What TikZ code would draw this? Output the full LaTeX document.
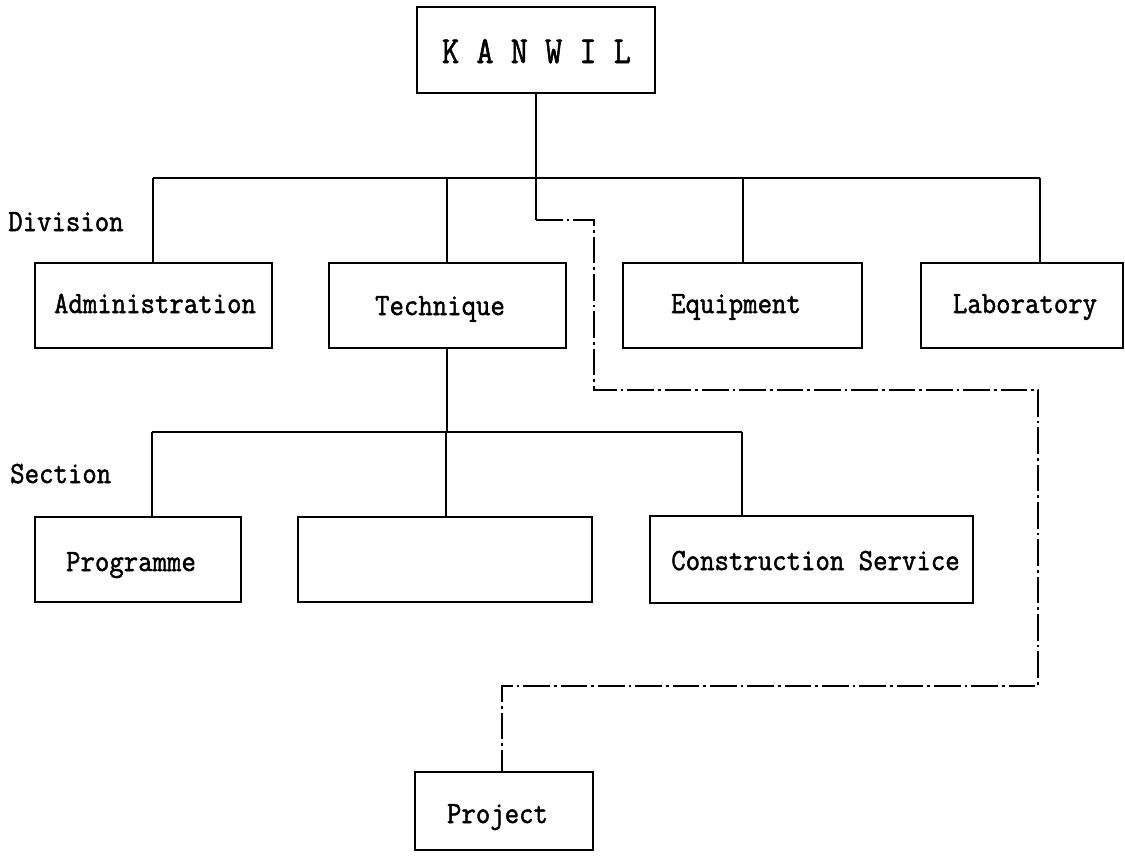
\documentclass[tikz,border=0pt]{standalone}
\usepackage{fontspec}
\usepackage{graphicx}
\newfontfamily\lmono{Latin Modern Mono}[FakeBold=1.6]
\newcommand{\txt}[1]{\scalebox{1}[1.1]{\lmono\fontsize{21}{23}\selectfont #1}}
\newcommand{\bigtxt}[1]{\scalebox{1}[1.15]{\lmono\fontsize{25}{28}\selectfont #1}}
\tikzset{
  box/.style={draw, line width=1.6pt, inner sep=0pt},
  lbl/.style={inner sep=0pt, anchor=base},
  link/.style={line width=1.6pt},
  dashdot/.style={line width=1.6pt, dash pattern=on 20pt off 3pt on 2pt off 3pt}
}
\begin{document}
\begin{tikzpicture}[x=0.75pt,y=-0.75pt]
\useasboundingbox (0,0) rectangle (1125,858);
% boxes
\node[box, minimum width=178.5pt, minimum height=64.5pt] (kanwil) at (536,50) {};
\node[box, minimum width=177.75pt, minimum height=63.75pt] (admin) at (153.5,305.5) {};
\node[box, minimum width=177.75pt, minimum height=63.75pt] (tech) at (447.5,305.5) {};
\node[box, minimum width=179.25pt, minimum height=63.75pt] (equip) at (742.5,305.5) {};
\node[box, minimum width=151.5pt, minimum height=63.75pt] (lab) at (1022,305.5) {};
\node[box, minimum width=154.5pt, minimum height=63.75pt] (prog) at (138,559.5) {};
\node[box, minimum width=220.5pt, minimum height=63.75pt] (mid) at (445,559.5) {};
\node[box, minimum width=242.25pt, minimum height=65.25pt] (cons) at (811.5,559.5) {};
\node[box, minimum width=133.5pt, minimum height=58.5pt] (proj) at (504,811) {};
% texts
\node[lbl] (kanwilT) at (536.5,63) {\bigtxt{K A N W I L}};
\node[lbl, anchor=base west] (divT) at (8,231) {\txt{Division}};
\node[lbl, anchor=base west] (secT) at (10,483) {\txt{Section}};
\node[lbl] (adminT) at (155,313) {\txt{Administration}};
\node[lbl] (techT) at (440,315) {\txt{Technique}};
\node[lbl] (equipT) at (736,313) {\txt{Equipment}};
\node[lbl] (labT) at (1025,313) {\txt{Laboratory}};
\node[lbl] (progT) at (131,571) {\txt{Programme}};
\node[lbl] (consT) at (815.5,570) {\txt{Construction Service}};
\node[lbl] (projT) at (497.5,823) {\txt{Project}};
% division bus
\coordinate (j0) at (536,178);
\coordinate (bL) at (153,178);
\coordinate (bT) at (447,178);
\coordinate (bE) at (743,178);
\coordinate (bR) at (1040,178);
\draw[link] (kanwil.south) -- (j0);
\draw[link] (bL) -- (bR);
\draw[link] (bL) -- (bL |- admin.north);
\draw[link] (bT) -- (bT |- tech.north);
\draw[link] (bE) -- (bE |- equip.north);
\draw[link] (bR) -- (bR |- lab.north);
% section bus
\coordinate (sT) at (447,432);
\coordinate (sL) at (152,432);
\coordinate (sM) at (446,432);
\coordinate (sR) at (742,432);
\draw[link] (tech.south -| sT) -- (sT);
\draw[link] (sL) -- (sR);
\draw[link] (sL) -- (sL |- prog.north);
\draw[link] (sM) -- (sM |- mid.north);
\draw[link] (sR) -- (sR |- cons.north);
% project line
\coordinate (d0) at (536,220);
\coordinate (d1) at (594,220);
\coordinate (d2) at (594,390);
\coordinate (d3) at (1038,390);
\coordinate (d4) at (1038,686);
\coordinate (d5) at (502,686);
\draw[link] (j0) -- (d0);
\draw[dashdot] (d0) -- (d1) -- (d2) -- (d3) -- (d4) -- (d5) -- (d5 |- proj.north);
\end{tikzpicture}
\end{document}
